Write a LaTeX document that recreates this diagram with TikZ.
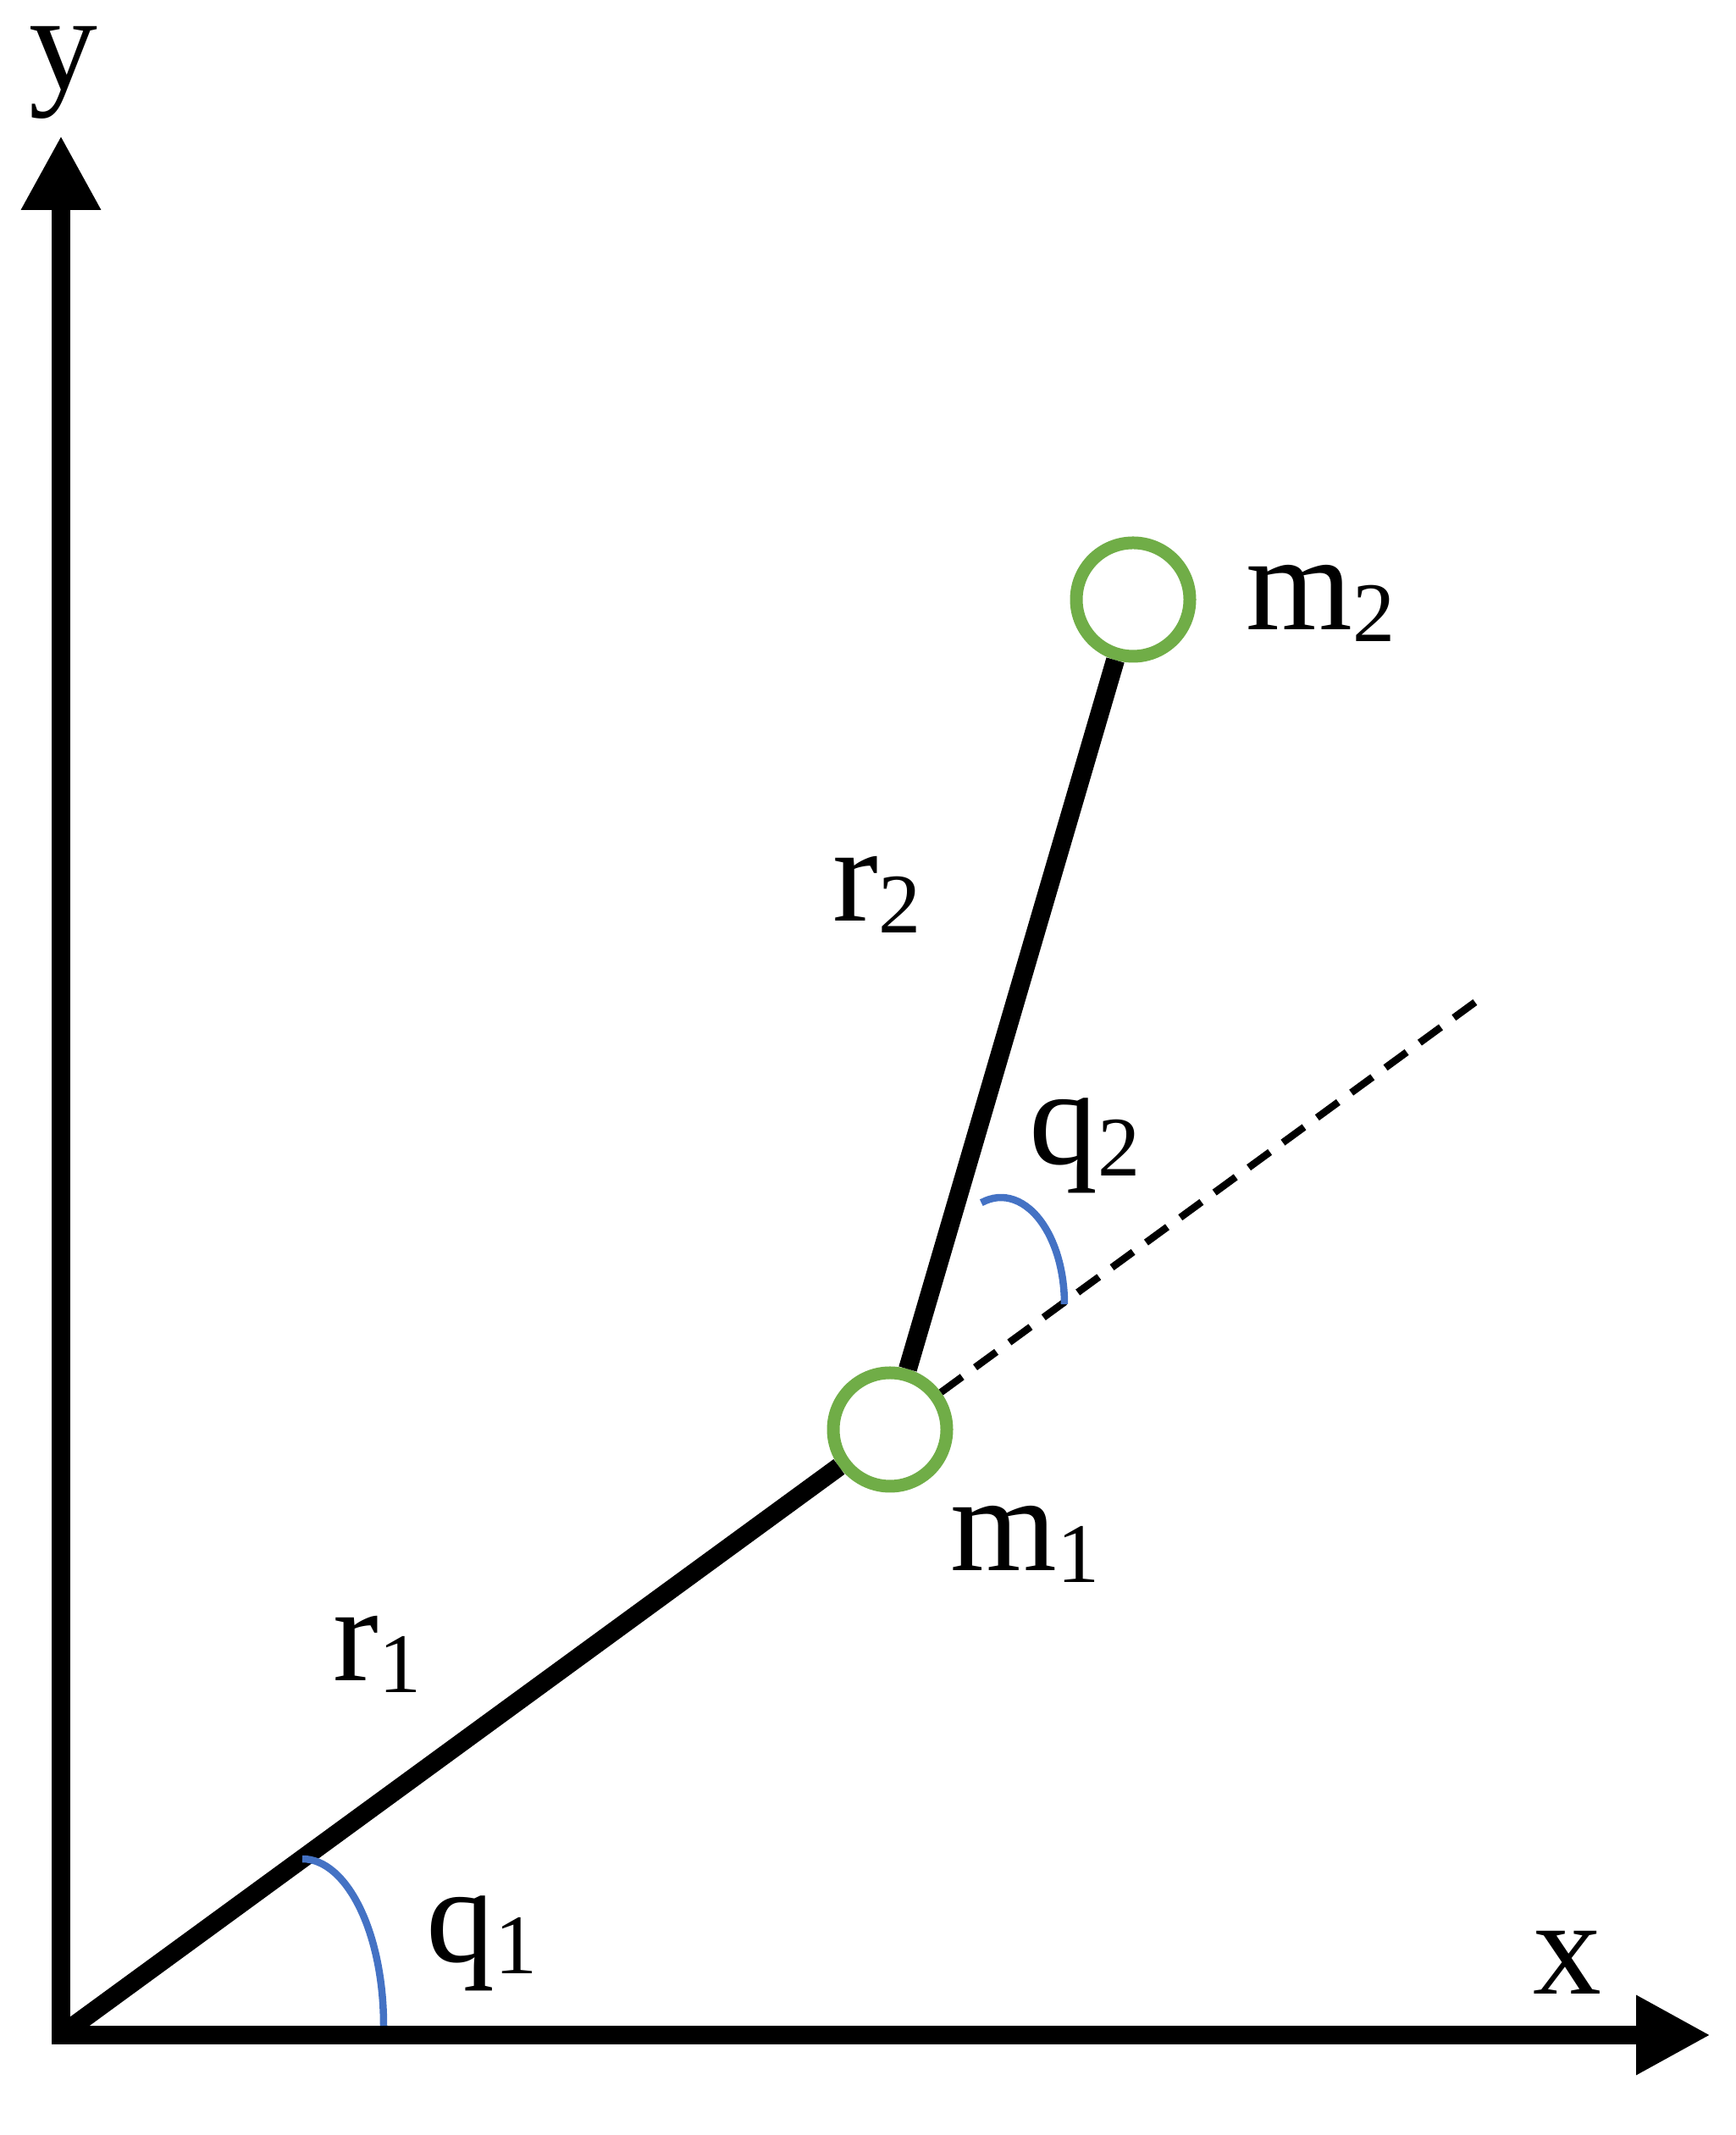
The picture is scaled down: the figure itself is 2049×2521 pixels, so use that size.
\documentclass[tikz,border=0pt]{standalone}
\usepackage{fontspec}
\setmainfont{Liberation Serif}
\usepackage{tikz}
\usetikzlibrary{positioning,arrows.meta,calc}

\definecolor{massgreen}{HTML}{70AD47}
\definecolor{arcblue}{HTML}{4472C4}
\newcommand{\sublabel}[2]{#1\raisebox{-1.4mm}{\fontsize{28.5}{30}\selectfont #2}}

\begin{document}
\begin{tikzpicture}[x=0.1mm,y=0.1mm,
    link/.style={line width=2.2mm},
    mass/.style={circle,draw=massgreen,line width=1.5mm,fill=white,minimum size=13.4mm,inner sep=0pt},
    anglearc/.style={arcblue,line width=0.85mm},
    lbl/.style={inner sep=0pt,anchor=base west,font=\fontsize{46}{50}\selectfont}]
    \useasboundingbox (0,0) rectangle (2049,2521);

    % Axes
    \coordinate (O) at (72,118);
    \coordinate (ytip) at (72,2361);
    \coordinate (xtip) at (2020,118);
    \draw[link,{Triangle[length=8.8mm,width=8.8mm]}-{Triangle[length=8.8mm,width=8.8mm]}] (ytip) -- (O) -- (xtip);
    \node[lbl,anchor=base] (ylbl) at (75,2415) {y};
    \node[lbl,anchor=base] (xlbl) at (1851,166) {x};

    % Masses and links
    \node[mass] (m1) at (1051,833) {};
    \node[mass] (m2) at (1338,1813) {};
    \coordinate (dashend) at ($(O)!1.71!(m1)$);
    \draw[link] (O) -- (m1);
    \draw[link] (m1) -- (m2);
    \draw[line width=0.85mm,dash pattern=on 3.1mm off 1.9mm] (m1) -- (dashend);

    % Angles
    \draw[anglearc] (357,326) arc[start angle=90,end angle=0,x radius=9.6mm,y radius=19.7mm];
    \draw[anglearc] (1158.8,1100.8) arc[start angle=108,end angle=0,x radius=7.5mm,y radius=12.6mm];

    % Labels
    \node[lbl] (m1lbl) at (1122,666) {\sublabel{m}{1}};
    \node[lbl] (m2lbl) at (1471,1777) {\sublabel{m}{2}};
    \node[lbl] (r1lbl) at (393,536) {\sublabel{r}{1}};
    \node[lbl] (r2lbl) at (983,1433) {\sublabel{r}{2}};
    \node[lbl] (q1lbl) at (503,204) {\sublabel{q}{1}};
    \node[lbl] (q2lbl) at (1215,1146) {\sublabel{q}{2}};
\end{tikzpicture}
\end{document}
